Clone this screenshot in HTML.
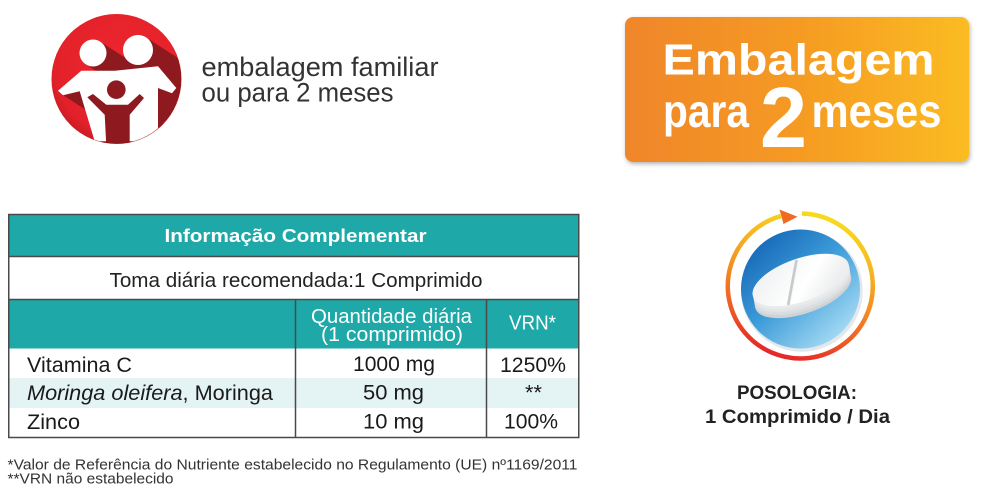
<!DOCTYPE html>
<html><head><meta charset="utf-8"><style>
html,body{margin:0;padding:0;background:#fff;}
svg{display:block;}
text{font-family:"Liberation Sans",sans-serif;}
</style></head><body>
<svg width="1000" height="500" viewBox="0 0 1000 500" xmlns="http://www.w3.org/2000/svg">
<defs>
 <radialGradient id="redg" cx="0.55" cy="0.4" r="0.62">
   <stop offset="0" stop-color="#ee262e"/><stop offset="0.85" stop-color="#e3212a"/><stop offset="1" stop-color="#c91b24"/>
 </radialGradient>
 <clipPath id="cc"><circle cx="116.5" cy="79" r="64.5"/></clipPath>
 <g id="fig">
   <circle cx="93" cy="53" r="13.5"/>
   <circle cx="138" cy="50" r="15"/>
   <polygon points="58,90.7 81.3,70.7 114.7,70.7 158,66.3 176.3,88 172,93.3 158,88 158,141.3 94.7,141.3 79.7,91.3 63,95.3"/>
 </g>
 <linearGradient id="og" x1="0" y1="0" x2="1" y2="0">
   <stop offset="0" stop-color="#f0862a"/><stop offset="0.5" stop-color="#f59a24"/><stop offset="1" stop-color="#fbbc22"/>
 </linearGradient>
 <filter id="sh" x="-10%" y="-10%" width="120%" height="130%">
   <feDropShadow dx="1" dy="2" stdDeviation="2" flood-color="#000" flood-opacity="0.3"/>
 </filter>
 <linearGradient id="ring" gradientUnits="userSpaceOnUse" x1="830" y1="213" x2="785" y2="360">
   <stop offset="0" stop-color="#f8df1c"/><stop offset="0.3" stop-color="#f6b221"/><stop offset="0.55" stop-color="#f28a22"/><stop offset="0.8" stop-color="#ed5526"/><stop offset="1" stop-color="#e5242a"/>
 </linearGradient>
 <linearGradient id="blue" gradientUnits="userSpaceOnUse" x1="752" y1="238" x2="848" y2="342">
   <stop offset="0" stop-color="#1464b4"/><stop offset="0.45" stop-color="#3a9ad8"/><stop offset="1" stop-color="#b2e2f7"/>
 </linearGradient>
 <linearGradient id="pilltop" gradientUnits="userSpaceOnUse" x1="780" y1="255" x2="820" y2="305">
   <stop offset="0" stop-color="#f2f3f4"/><stop offset="0.6" stop-color="#ffffff"/><stop offset="1" stop-color="#eceeef"/>
 </linearGradient>
</defs>

<!-- family icon -->
<circle cx="116.5" cy="79" r="65" fill="url(#redg)"/>
<g clip-path="url(#cc)" fill="#8e1a1f">
 <use href="#fig" transform="translate(2,1.3)"/><use href="#fig" transform="translate(4,2.6)"/>
 <use href="#fig" transform="translate(6,3.9)"/><use href="#fig" transform="translate(8,5.2)"/>
 <use href="#fig" transform="translate(10,6.5)"/><use href="#fig" transform="translate(12,7.8)"/>
 <use href="#fig" transform="translate(14,9.1)"/><use href="#fig" transform="translate(16,10.4)"/>
 <use href="#fig" transform="translate(18,11.7)"/><use href="#fig" transform="translate(20,13)"/>
 <use href="#fig" transform="translate(22,14.3)"/><use href="#fig" transform="translate(24,15.6)"/>
 <use href="#fig" transform="translate(26,16.9)"/><use href="#fig" transform="translate(28,18.2)"/>
 <use href="#fig" transform="translate(30,19.5)"/><use href="#fig" transform="translate(32,20.8)"/>
 <use href="#fig" transform="translate(34,22.1)"/><use href="#fig" transform="translate(36,23.4)"/>
 <use href="#fig" transform="translate(38,24.7)"/><use href="#fig" transform="translate(40,26)"/>
</g>
<g clip-path="url(#cc)">
 <use href="#fig" fill="#ffffff"/>
 <circle cx="116.3" cy="89.7" r="9.3" fill="#8e1a1f"/>
 <polygon points="87.3,97.3 93,94 106.3,104.7 128,104.7 139.7,94 144,98 129.7,114.7 129.7,146 106.3,146 104.7,114.7" fill="#8e1a1f"/>
</g>
<text x="201.5" y="76" font-size="27" fill="#333" textLength="237" lengthAdjust="spacingAndGlyphs">embalagem familiar</text>
<text x="201.5" y="101.5" font-size="27" fill="#333" textLength="192" lengthAdjust="spacingAndGlyphs">ou para 2 meses</text>

<!-- orange box -->
<rect x="625" y="17" width="344" height="145" rx="8" fill="url(#og)" filter="url(#sh)"/>
<g fill="#fff" font-weight="bold">
 <text x="662.5" y="74.5" font-size="44" textLength="272" lengthAdjust="spacingAndGlyphs">Embalagem</text>
 <text x="663" y="127" font-size="46" textLength="86" lengthAdjust="spacingAndGlyphs">para</text>
 <text x="760" y="147" font-size="85" textLength="47" lengthAdjust="spacingAndGlyphs">2</text>
 <text x="811.5" y="127" font-size="46" textLength="130" lengthAdjust="spacingAndGlyphs">meses</text>
</g>

<!-- table -->
<rect x="9" y="215" width="570" height="41.5" fill="#1ea8a7"/>
<rect x="9" y="300" width="570" height="48.5" fill="#1ea8a7"/>
<rect x="9" y="378" width="570" height="30" fill="#e4f3f4"/>
<g stroke="#4a4a4a" stroke-width="1.5" fill="none">
 <line x1="9" y1="256.5" x2="579" y2="256.5"/>
 <line x1="9" y1="299.5" x2="579" y2="299.5"/>
 <line x1="295.5" y1="299.5" x2="295.5" y2="437.5"/>
 <line x1="486.5" y1="299.5" x2="486.5" y2="437.5"/>
 <rect x="8.75" y="214.5" width="570" height="223"/>
</g>
<text x="164.5" y="242" font-size="18" font-weight="bold" fill="#fff" textLength="262" lengthAdjust="spacingAndGlyphs">Informação Complementar</text>
<text x="109.5" y="287" font-size="20" fill="#222" textLength="373" lengthAdjust="spacingAndGlyphs">Toma diária recomendada:1 Comprimido</text>
<text x="311" y="323" font-size="20" fill="#fff" textLength="161" lengthAdjust="spacingAndGlyphs">Quantidade diária</text>
<text x="321" y="341" font-size="20" fill="#fff" textLength="142" lengthAdjust="spacingAndGlyphs">(1 comprimido)</text>
<text x="509" y="329.5" font-size="20" fill="#fff" textLength="47" lengthAdjust="spacingAndGlyphs">VRN*</text>
<g font-size="21" fill="#1a1a1a">
 <text x="27" y="372" textLength="105" lengthAdjust="spacingAndGlyphs">Vitamina C</text>
 <text x="27" y="400" textLength="246" lengthAdjust="spacingAndGlyphs"><tspan font-style="italic">Moringa oleifera</tspan>, Moringa</text>
 <text x="27" y="429" textLength="53" lengthAdjust="spacingAndGlyphs">Zinco</text>
 <text x="353" y="371" textLength="82" lengthAdjust="spacingAndGlyphs">1000 mg</text>
 <text x="363" y="399.5" textLength="61" lengthAdjust="spacingAndGlyphs">50 mg</text>
 <text x="363" y="428.5" textLength="61" lengthAdjust="spacingAndGlyphs">10 mg</text>
 <text x="500" y="372" textLength="66" lengthAdjust="spacingAndGlyphs">1250%</text>
 <text x="525" y="399.5" textLength="17" lengthAdjust="spacingAndGlyphs">**</text>
 <text x="504" y="428.5" textLength="54" lengthAdjust="spacingAndGlyphs">100%</text>
</g>
<text x="7.5" y="469.5" font-size="14.5" fill="#333" textLength="570" lengthAdjust="spacingAndGlyphs">*Valor de Referência do Nutriente estabelecido no Regulamento (UE) nº1169/2011</text>
<text x="7.5" y="483.5" font-size="14.5" fill="#333" textLength="166" lengthAdjust="spacingAndGlyphs">**VRN não estabelecido</text>

<!-- pill icon -->
<path d="M 802 213.5 A 72.5 72.5 0 1 1 781 216.1" fill="none" stroke="url(#ring)" stroke-width="4.5"/>
<polygon points="779.5,209.5 797.5,216.8 783.5,224" fill="#f06a22"/>
<circle cx="801.8" cy="290.8" r="61" fill="#e4e8eb"/>
<circle cx="800.5" cy="289" r="59.5" fill="url(#blue)"/>
<g transform="rotate(-19.3 800.7 280)">
 <ellipse cx="800.7" cy="287" rx="50.5" ry="21.5" fill="#1f5f8f" opacity="0.18"/>
 <ellipse cx="799" cy="292" rx="50.5" ry="21.5" fill="#cfd3d6"/>
 <ellipse cx="799.5" cy="289" rx="50.5" ry="21.5" fill="#dadde0"/>
 <ellipse cx="800" cy="286" rx="50.5" ry="21.5" fill="#e2e5e7"/>
 <ellipse cx="800.5" cy="283" rx="50.5" ry="21.5" fill="#e8eaec"/>
 <ellipse cx="800.7" cy="280" rx="50.5" ry="21.5" fill="url(#pilltop)"/>
</g>
<line x1="796.7" y1="260" x2="788.3" y2="305" stroke="#c6cacd" stroke-width="3"/>
<line x1="798.2" y1="260.5" x2="790" y2="305" stroke="#f4f5f6" stroke-width="1"/>
<text x="737" y="399" font-size="19.5" font-weight="bold" fill="#222" textLength="120" lengthAdjust="spacingAndGlyphs">POSOLOGIA:</text>
<text x="705" y="423" font-size="19.5" font-weight="bold" fill="#222" textLength="185" lengthAdjust="spacingAndGlyphs">1 Comprimido / Dia</text>
</svg>
</body></html>
